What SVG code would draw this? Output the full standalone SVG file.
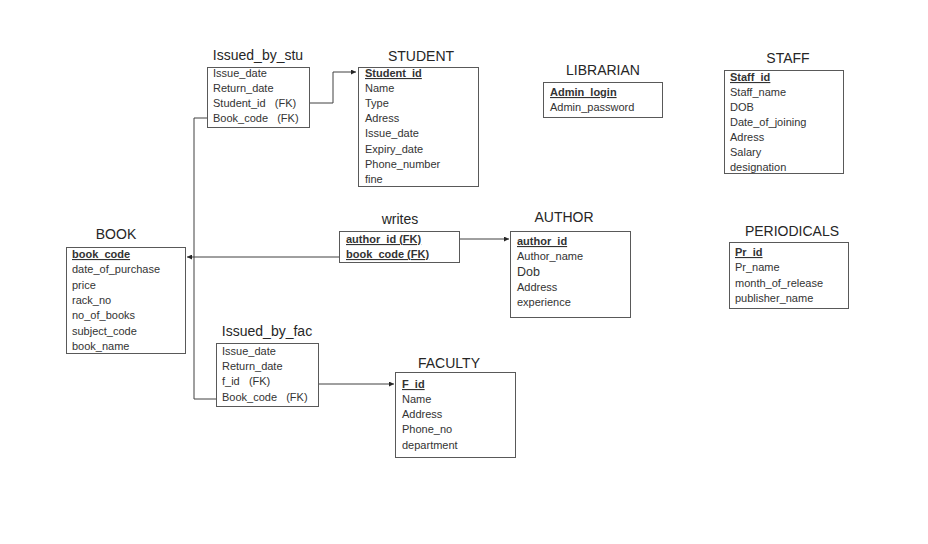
<svg xmlns="http://www.w3.org/2000/svg" width="928" height="544" viewBox="0 0 928 544">
<defs>
<style>
.box{fill:#fff;stroke:#595959;stroke-width:1}
.t{font-family:"Liberation Sans",Arial,sans-serif;font-size:14px;fill:#262626;text-anchor:middle}
.r{font-family:"Liberation Sans",Arial,sans-serif;font-size:11px;fill:#333;white-space:pre}
.k{font-weight:bold;text-decoration:underline}
.c{fill:none;stroke:#404040;stroke-width:1}
</style>
<marker id="ah" viewBox="0 0 6 6" refX="6" refY="3" markerWidth="5" markerHeight="5" orient="auto" markerUnits="userSpaceOnUse">
<path d="M0,0 L6,3 L0,6 z" fill="#262626"/>
</marker>
</defs>
<rect width="928" height="544" fill="#fff"/>

<g id="connectors">
<path class="c" d="M309,103 H333 V72 H356" marker-end="url(#ah)"/>
<path class="c" d="M207,118 H194 V399 H216"/>
<path class="c" d="M339,257 H187" marker-end="url(#ah)"/>
<path class="c" d="M459,239 H509" marker-end="url(#ah)"/>
<path class="c" d="M318,384 H394" marker-end="url(#ah)"/>
</g>

<g id="issued_by_stu">
<text class="t" x="258" y="60">Issued_by_stu</text>
<rect class="box" x="207.5" y="67.5" width="102" height="60"/>
<text class="r" x="213" y="77">Issue_date</text>
<text class="r" x="213" y="92">Return_date</text>
<text class="r" x="213" y="107" xml:space="preserve">Student_id   (FK)</text>
<text class="r" x="213" y="122" xml:space="preserve">Book_code   (FK)</text>
</g>

<g id="student">
<text class="t" x="421" y="61">STUDENT</text>
<rect class="box" x="358.5" y="67.5" width="120" height="119"/>
<text class="r k" x="365" y="77">Student_id</text>
<text class="r" x="365" y="92">Name</text>
<text class="r" x="365" y="107">Type</text>
<text class="r" x="365" y="122">Adress</text>
<text class="r" x="365" y="137">Issue_date</text>
<text class="r" x="365" y="153">Expiry_date</text>
<text class="r" x="365" y="168">Phone_number</text>
<text class="r" x="365" y="183">fine</text>
</g>

<g id="librarian">
<text class="t" x="603" y="75">LIBRARIAN</text>
<rect class="box" x="543.5" y="82.5" width="119" height="35"/>
<text class="r k" x="550" y="96">Admin_login</text>
<text class="r" x="550" y="111">Admin_password</text>
</g>

<g id="staff">
<text class="t" x="788" y="63">STAFF</text>
<rect class="box" x="724.5" y="70.5" width="119" height="103"/>
<text class="r k" x="730" y="81">Staff_id</text>
<text class="r" x="730" y="96">Staff_name</text>
<text class="r" x="730" y="111">DOB</text>
<text class="r" x="730" y="126">Date_of_joining</text>
<text class="r" x="730" y="141">Adress</text>
<text class="r" x="730" y="156">Salary</text>
<text class="r" x="730" y="171">designation</text>
</g>

<g id="book">
<text class="t" x="116" y="239">BOOK</text>
<rect class="box" x="66.5" y="247.5" width="119" height="106"/>
<text class="r k" x="72" y="258">book_code</text>
<text class="r" x="72" y="273">date_of_purchase</text>
<text class="r" x="72" y="289">price</text>
<text class="r" x="72" y="304">rack_no</text>
<text class="r" x="72" y="319">no_of_books</text>
<text class="r" x="72" y="335">subject_code</text>
<text class="r" x="72" y="350">book_name</text>
</g>

<g id="writes">
<text class="t" x="400" y="224">writes</text>
<rect class="box" x="339.5" y="231.5" width="120" height="31"/>
<text class="r k" x="346" y="243">author_id (FK)</text>
<text class="r k" x="346" y="258">book_code (FK)</text>
</g>

<g id="author">
<text class="t" x="564" y="222">AUTHOR</text>
<rect class="box" x="510.5" y="231.5" width="120" height="86"/>
<text class="r k" x="517" y="245">author_id</text>
<text class="r" x="517" y="260">Author_name</text>
<text class="r" x="517" y="276" style="font-size:12.5px">Dob</text>
<text class="r" x="517" y="291">Address</text>
<text class="r" x="517" y="306">experience</text>
</g>

<g id="periodicals">
<text class="t" x="792" y="236">PERIODICALS</text>
<rect class="box" x="729.5" y="242.5" width="119" height="66"/>
<text class="r k" x="735" y="256">Pr_id</text>
<text class="r" x="735" y="271">Pr_name</text>
<text class="r" x="735" y="287">month_of_release</text>
<text class="r" x="735" y="302">publisher_name</text>
</g>

<g id="issued_by_fac">
<text class="t" x="267" y="336">Issued_by_fac</text>
<rect class="box" x="216.5" y="343.5" width="102" height="63"/>
<text class="r" x="222" y="355">Issue_date</text>
<text class="r" x="222" y="370">Return_date</text>
<text class="r" x="222" y="385" xml:space="preserve">f_id   (FK)</text>
<text class="r" x="222" y="401" xml:space="preserve">Book_code   (FK)</text>
</g>

<g id="faculty">
<text class="t" x="449" y="368">FACULTY</text>
<rect class="box" x="395.5" y="372.5" width="120" height="85"/>
<text class="r k" x="402" y="388">F_id</text>
<text class="r" x="402" y="403">Name</text>
<text class="r" x="402" y="418">Address</text>
<text class="r" x="402" y="433">Phone_no</text>
<text class="r" x="402" y="449">department</text>
</g>
</svg>
